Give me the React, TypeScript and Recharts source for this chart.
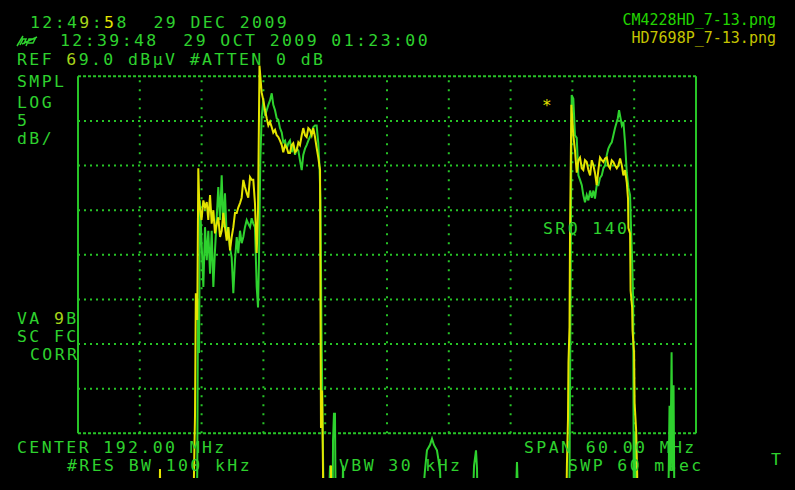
import { ComposedChart, Line, XAxis, YAxis, ReferenceLine } from "recharts"

// analyzer settings
const CENTER_MHZ = 192
const SPAN_MHZ = 60
const REF_DBUV = 69
const DB_PER_DIV = 5
const F_MIN = CENTER_MHZ - SPAN_MHZ / 2
const F_MAX = CENTER_MHZ + SPAN_MHZ / 2
const L_BOTTOM = REF_DBUV - 8 * DB_PER_DIV

const freqGrid = [168, 174, 180, 186, 192, 198, 204, 210, 216]
const levelGrid = [64, 59, 54, 49, 44, 39, 34]

// CM4228HD trace (green), MHz / dBuV
const greenFreq = [
  162.0, 172.87, 173.5, 173.58, 173.65, 173.75, 173.84, 174.17, 174.33, 174.5,
  174.65, 174.82, 174.98, 175.14, 175.3, 175.47, 175.62, 175.79, 175.95, 176.11,
  176.27, 176.44, 176.59, 176.76, 176.92, 177.08, 177.24, 177.41, 177.56, 177.73,
  177.89, 178.05, 178.21, 178.38, 178.53, 178.7, 178.86, 179.02, 179.18, 179.35,
  179.48, 179.57, 179.7, 179.83, 179.99, 180.16, 180.32, 180.48, 180.64, 180.81,
  180.96, 181.13, 181.29, 181.45, 181.61, 181.78, 181.93, 182.1, 182.26, 182.42,
  182.58, 182.75, 182.9, 183.07, 183.23, 183.39, 183.55, 183.72, 183.87, 184.04,
  184.2, 184.36, 184.52, 184.69, 184.84, 185.01, 185.17, 185.33, 185.45, 185.54,
  185.64, 185.74, 185.81, 185.87, 186.27, 186.47, 186.57, 186.71, 186.76, 186.85,
  186.95, 187.03, 187.63, 187.73, 187.83, 195.2, 195.69, 195.88, 196.17, 196.37,
  196.56, 196.85, 197.15, 197.34, 200.25, 200.45, 200.64, 200.74, 200.83, 204.43,
  204.62, 204.82, 209.67, 209.72, 209.82, 209.93, 210.09, 210.25, 210.42, 210.58,
  210.74, 210.91, 211.06, 211.22, 211.39, 211.55, 211.72, 211.88, 212.04, 212.19,
  212.36, 212.52, 212.68, 212.85, 213.01, 213.17, 213.34, 213.49, 213.65, 213.82,
  213.98, 214.14, 214.31, 214.41, 214.53, 214.63, 214.8, 214.95, 215.11, 215.28,
  215.44, 215.6, 215.7, 215.8, 215.9, 215.95, 216.04, 216.1, 216.21, 216.26,
  219.28, 219.43, 219.51, 219.63, 219.72, 219.82, 219.92, 222.0,
]
const greenLevel = [
  18, 18, 18, 24.9, 43.9, 38.0, 55.1, 45.4, 52.1, 48.4,
  51.7, 46.9, 51.7, 45.4, 49.5, 53.2, 56.6, 52.9, 57.9, 52.1,
  55.9, 51.0, 52.1, 49.8, 48.7, 44.7, 48.4, 51.0, 49.2, 51.7,
  50.3, 51.0, 52.1, 52.9, 52.5, 52.1, 53.1, 52.5, 52.1, 45.4,
  43.1, 48.4, 59.6, 64.4, 66.3, 64.6, 65.2, 65.8, 66.3, 67.1,
  65.8, 65.2, 64.3, 64.1, 63.2, 62.7, 61.6, 61.8, 60.9, 61.5,
  61.8, 60.5, 61.3, 60.2, 60.9, 60.7, 59.6, 58.5, 60.2, 60.9,
  61.3, 61.8, 62.2, 62.7, 63.3, 63.5, 63.5, 61.5, 58.8, 55.1,
  40.5, 31.2, 24.5, 18, 18, 25.4, 18, 18, 28.2, 31.2,
  31.2, 18, 18, 25.4, 18, 18, 24.9, 27.1, 27.7, 28.4,
  27.7, 27.1, 24.9, 18, 18, 25.4, 27.1, 25.0, 18, 18,
  25.8, 18, 18, 24.5, 43.9, 66.9, 66.5, 62.4, 62.1, 57.9,
  57.4, 56.8, 55.7, 54.9, 55.7, 55.1, 56.2, 55.4, 56.2, 55.3,
  56.8, 56.8, 57.6, 57.9, 58.7, 59.0, 60.2, 60.9, 61.3, 61.6,
  62.4, 63.2, 63.9, 64.3, 65.2, 64.6, 63.5, 63.9, 61.6, 58.2,
  56.5, 55.7, 51.7, 48.4, 43.9, 24.5, 18, 29.1, 24.5, 18,
  18, 32.1, 24.9, 38.1, 24.9, 34.4, 18, 18,
]

// HD7698P trace (yellow), MHz / dBuV
const yellowFreq = [
  162.0, 169.9, 169.96, 170.02, 173.21, 173.26, 173.36, 173.44, 173.58, 173.68,
  173.77, 173.99, 174.17, 174.33, 174.5, 174.65, 174.82, 174.98, 175.14, 175.3,
  175.47, 175.62, 175.79, 175.95, 176.11, 176.27, 176.44, 176.59, 176.76, 176.92,
  177.08, 177.24, 177.41, 177.56, 177.73, 177.89, 178.05, 178.21, 178.38, 178.53,
  178.7, 178.86, 179.02, 179.18, 179.35, 179.48, 179.62, 179.83, 179.99, 180.16,
  180.32, 180.48, 180.64, 180.81, 180.96, 181.13, 181.29, 181.45, 181.61, 181.78,
  181.93, 182.1, 182.26, 182.42, 182.58, 182.75, 182.9, 183.07, 183.23, 183.39,
  183.55, 183.72, 183.87, 184.04, 184.2, 184.36, 184.52, 184.69, 184.84, 185.01,
  185.17, 185.33, 185.5, 185.54, 185.59, 185.69, 185.74, 185.79, 185.84, 186.51,
  186.56, 186.61, 209.38, 209.47, 209.57, 209.62, 209.72, 209.77, 209.9, 210.09,
  210.25, 210.42, 210.58, 210.74, 210.91, 211.06, 211.22, 211.39, 211.55, 211.72,
  211.88, 212.04, 212.19, 212.36, 212.52, 212.68, 212.85, 213.01, 213.17, 213.34,
  213.49, 213.65, 213.82, 213.98, 214.14, 214.31, 214.46, 214.63, 214.8, 214.95,
  215.11, 215.28, 215.4, 215.44, 215.6, 215.65, 215.8, 215.84, 215.99, 216.04,
  216.19, 216.29, 216.33, 222.0,
]
const yellowLevel = [
  18, 18, 25.0, 18, 18, 24.5, 31.0, 44.7, 41.7, 58.7,
  54.8, 52.9, 55.1, 54.3, 54.9, 52.9, 55.7, 52.5, 54.0, 51.4,
  52.5, 53.2, 51.0, 51.7, 53.7, 52.1, 50.6, 52.1, 49.5, 51.0,
  52.1, 53.7, 53.7, 54.3, 54.8, 55.4, 57.4, 56.6, 55.9, 55.4,
  57.7, 57.4, 57.4, 54.8, 49.2, 54.0, 70.2, 67.2, 66.3, 65.2,
  64.3, 63.5, 63.9, 63.3, 62.7, 63.0, 62.4, 62.2, 61.8, 61.3,
  60.5, 61.3, 61.0, 60.4, 60.4, 61.3, 61.5, 60.5, 60.7, 61.6,
  61.3, 62.4, 63.2, 62.4, 62.2, 63.2, 63.0, 62.4, 63.2, 62.2,
  61.0, 59.9, 58.5, 43.9, 29.6, 33.8, 29.7, 24.5, 18, 18,
  25.4, 18, 18, 25.6, 30.5, 37.0, 40.9, 51.4, 65.8, 62.4,
  60.7, 58.2, 59.6, 59.9, 58.7, 58.5, 59.6, 59.4, 58.5, 57.9,
  59.6, 59.0, 58.2, 56.8, 58.5, 59.9, 59.6, 59.4, 59.8, 59.9,
  59.0, 58.7, 59.6, 59.4, 59.0, 58.7, 59.0, 59.8, 59.0, 57.9,
  58.5, 57.1, 55.3, 52.0, 51.4, 45.0, 43.1, 40.5, 38.0, 32.4,
  29.3, 24.5, 18, 18,
]

const greenData = greenFreq.map((freq, i) => ({ freq, level: greenLevel[i] }))
const yellowData = yellowFreq.map((freq, i) => ({ freq, level: yellowLevel[i] }))

const GREEN = "#2ed12e"
const GRID = "#27c427"
const YELLOW = "#e4e400"
const MIXED = "#a6d41a" // where both screenshots' text overlaps
const LEGEND_YELLOW = "#c4c400"
const MONO = "DejaVu Sans Mono"

function ScreenText({ x, y, children }: { x: number; y: number; children: React.ReactNode }) {
  return (
    <text x={x} y={y} fill={GREEN} fontFamily={MONO} fontSize={16.5} style={{ whiteSpace: "pre", letterSpacing: "2.4px" }}>
      {children}
    </text>
  )
}

export default function App() {
  return (
    <div style={{ position: "relative", width: 795, height: 490, background: "#000" }}>
      <style>{`body{margin:0;background:#000}`}</style>
      <ComposedChart width={795} height={490} margin={{ top: 54, right: 99, bottom: 12, left: 78 }}>
        <XAxis type="number" dataKey="freq" domain={[F_MIN, F_MAX]} hide allowDataOverflow />
        <YAxis type="number" domain={[24, 71.5]} hide allowDataOverflow />
        {levelGrid.map((l) => (
          <ReferenceLine key={"h" + l} segment={[{ x: F_MIN, y: l }, { x: F_MAX, y: l }]} stroke={GRID} strokeWidth={2} strokeDasharray="2 4" />
        ))}
        {freqGrid.map((f) => (
          <ReferenceLine key={"v" + f} segment={[{ x: f, y: L_BOTTOM }, { x: f, y: REF_DBUV }]} stroke={GRID} strokeWidth={2} strokeDasharray="2 7" />
        ))}
        <ReferenceLine segment={[{ x: F_MIN, y: REF_DBUV }, { x: F_MAX, y: REF_DBUV }]} stroke={GRID} strokeWidth={2} strokeDasharray="3 2" />
        <ReferenceLine segment={[{ x: F_MIN, y: L_BOTTOM }, { x: F_MAX, y: L_BOTTOM }]} stroke={GRID} strokeWidth={2} strokeDasharray="3 2" />
        <ReferenceLine segment={[{ x: F_MIN, y: L_BOTTOM }, { x: F_MIN, y: REF_DBUV }]} stroke={GRID} strokeWidth={2} />
        <ReferenceLine segment={[{ x: F_MAX, y: L_BOTTOM }, { x: F_MAX, y: REF_DBUV }]} stroke={GRID} strokeWidth={2} />
        <Line data={greenData} dataKey="level" type="linear" stroke={GREEN} strokeWidth={2} dot={false} isAnimationActive={false} />
        <Line data={yellowData} dataKey="level" type="linear" stroke={YELLOW} strokeWidth={2} dot={false} isAnimationActive={false} />
      </ComposedChart>
      <svg width={795} height={490} style={{ position: "absolute", left: 0, top: 0, pointerEvents: "none" }}>
        <ScreenText x={30} y={28}>
          12:4<tspan fill={MIXED}>9</tspan>:<tspan fill={YELLOW}>5</tspan>8  29 DEC 2009
        </ScreenText>
        <path d="M17 46 L23 36 M20 45 L23 39 L26 39 L24 44 M26 46 L29 39 L35 39 L33 43 L28 43 M22 44 L37 37" stroke={GREEN} strokeWidth={1.5} fill="none" />
        <ScreenText x={60} y={46}>{"12:39:48  29 OCT 2009 01:23:00"}</ScreenText>
        <ScreenText x={17} y={65}>
          REF <tspan fill={MIXED}>6</tspan>9.0 dBµV #ATTEN 0 dB
        </ScreenText>
        <ScreenText x={17} y={87}>SMPL</ScreenText>
        <ScreenText x={17} y={108}>LOG</ScreenText>
        <ScreenText x={17} y={126}>{String(DB_PER_DIV)}</ScreenText>
        <ScreenText x={17} y={144}>dB/</ScreenText>
        <ScreenText x={17} y={324}>
          VA <tspan fill={MIXED}>9</tspan>B
        </ScreenText>
        <ScreenText x={17} y={342}>{"SC FC"}</ScreenText>
        <ScreenText x={30} y={360}>CORR</ScreenText>
        <ScreenText x={17} y={453}>{`CENTER ${CENTER_MHZ}.00 MHz`}</ScreenText>
        <ScreenText x={524} y={453}>{`SPAN ${SPAN_MHZ}.00 MHz`}</ScreenText>
        <ScreenText x={67} y={471}>{"#RES BW 100 kHz"}</ScreenText>
        <ScreenText x={339} y={471}>{"VBW 30 kHz"}</ScreenText>
        <ScreenText x={568} y={471}>{"SWP 60 msec"}</ScreenText>
        <ScreenText x={543} y={234}>{"SRQ 140"}</ScreenText>
        <ScreenText x={771} y={465}>T</ScreenText>
        <text x={542} y={111} fill={YELLOW} fontFamily={MONO} fontSize={16}>*</text>
        <text x={776} y={25} textAnchor="end" fill="#22d400" fontFamily={MONO} fontSize={15}>CM4228HD_7-13.png</text>
        <text x={776} y={43} textAnchor="end" fill={LEGEND_YELLOW} fontFamily={MONO} fontSize={15}>HD7698P_7-13.png</text>
      </svg>
    </div>
  )
}
